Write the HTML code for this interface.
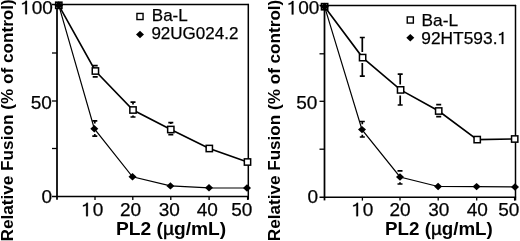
<!DOCTYPE html>
<html><head><meta charset="utf-8"><style>
html,body{margin:0;padding:0;background:#fff;width:520px;height:241px;overflow:hidden}
svg{display:block;will-change:transform}
text{font-family:"Liberation Sans",sans-serif;fill:#000;stroke:#000;stroke-width:0.25px}
text[font-weight="700"]{stroke-width:0}
</style></head><body>
<svg width="520" height="241" viewBox="0 0 520 241">
<path d="M57.00 4.50V199.70" stroke="#000" stroke-width="1.75" fill="none"/>
<path d="M52.00 196.50H248.90" stroke="#000" stroke-width="1.4" fill="none"/>
<path d="M52.00 4.50H248.90" stroke="#000" stroke-width="1.3" fill="none"/>
<path d="M248.30 3.90V199.70" stroke="#000" stroke-width="1.5" fill="none"/>
<path d="M52.00 53.00H57.00" stroke="#000" stroke-width="1.3"/>
<path d="M52.00 101.00H57.00" stroke="#000" stroke-width="1.3"/>
<path d="M52.00 148.50H57.00" stroke="#000" stroke-width="1.3"/>
<path d="M95.00 196.50V199.90" stroke="#000" stroke-width="1.3"/>
<path d="M132.80 196.50V199.90" stroke="#000" stroke-width="1.3"/>
<path d="M170.80 196.50V199.90" stroke="#000" stroke-width="1.3"/>
<path d="M209.10 196.50V199.90" stroke="#000" stroke-width="1.3"/>
<path d="M247.60 196.50V199.90" stroke="#000" stroke-width="1.3"/>
<polyline points="58.80,5.30 94.30,128.70 132.50,176.80 170.40,185.90 209.00,187.80 247.00,188.00" fill="none" stroke="#000" stroke-width="1.2" stroke-linejoin="miter"/>
<polyline points="58.80,5.30 95.40,71.00 133.00,110.00 170.80,129.50 209.30,148.50 247.50,162.00" fill="none" stroke="#000" stroke-width="1.6" stroke-linejoin="miter"/>
<path d="M92.30 120.90H97.30M92.30 136.20H97.30M94.80 120.90V123.50M94.80 136.20V133.90" stroke="#000" stroke-width="1.7" fill="none"/>
<path d="M92.70 65.60H97.70M92.70 76.80H97.70" stroke="#000" stroke-width="1.7" fill="none"/>
<path d="M130.50 102.10H135.50M130.50 117.00H135.50M133.00 102.10V104.50M133.00 117.00V115.50" stroke="#000" stroke-width="1.7" fill="none"/>
<path d="M168.30 122.70H173.30M168.30 134.60H173.30M170.80 122.70V124.00" stroke="#000" stroke-width="1.7" fill="none"/>
<path d="M58.80 1.60L62.80 5.30L58.80 9.00L54.80 5.30Z" fill="#000"/>
<path d="M94.30 125.00L98.30 128.70L94.30 132.40L90.30 128.70Z" fill="#000"/>
<path d="M132.50 173.10L136.50 176.80L132.50 180.50L128.50 176.80Z" fill="#000"/>
<path d="M170.40 182.20L174.40 185.90L170.40 189.60L166.40 185.90Z" fill="#000"/>
<path d="M209.00 184.10L213.00 187.80L209.00 191.50L205.00 187.80Z" fill="#000"/>
<path d="M247.00 184.30L251.00 188.00L247.00 191.70L243.00 188.00Z" fill="#000"/>
<rect x="92.25" y="67.85" width="6.30" height="6.30" fill="#fff" stroke="#000" stroke-width="1.5"/>
<rect x="129.85" y="106.85" width="6.30" height="6.30" fill="#fff" stroke="#000" stroke-width="1.5"/>
<rect x="167.65" y="126.35" width="6.30" height="6.30" fill="#fff" stroke="#000" stroke-width="1.5"/>
<rect x="206.15" y="145.35" width="6.30" height="6.30" fill="#fff" stroke="#000" stroke-width="1.5"/>
<rect x="244.35" y="158.85" width="6.30" height="6.30" fill="#fff" stroke="#000" stroke-width="1.5"/>
<rect x="55.70" y="2.20" width="6.20" height="6.20" fill="#fff" stroke="#000" stroke-width="1.6"/>
<path d="M58.80 1.40L63.00 5.30L58.80 9.20L54.60 5.30Z" fill="#000"/>
<rect x="136.95" y="13.45" width="6.10" height="6.10" fill="#fff" stroke="#000" stroke-width="1.4"/>
<path d="M140.00 30.80L144.00 34.50L140.00 38.20L136.00 34.50Z" fill="#000"/>
<path d="M324.50 5.50V200.40" stroke="#000" stroke-width="1.75" fill="none"/>
<path d="M319.50 197.20H516.10" stroke="#000" stroke-width="1.4" fill="none"/>
<path d="M319.50 5.50H516.10" stroke="#000" stroke-width="1.3" fill="none"/>
<path d="M515.50 4.90V200.40" stroke="#000" stroke-width="1.5" fill="none"/>
<path d="M319.50 53.80H324.50" stroke="#000" stroke-width="1.3"/>
<path d="M319.50 101.30H324.50" stroke="#000" stroke-width="1.3"/>
<path d="M319.50 149.20H324.50" stroke="#000" stroke-width="1.3"/>
<path d="M362.40 197.20V200.60" stroke="#000" stroke-width="1.3"/>
<path d="M400.00 197.20V200.60" stroke="#000" stroke-width="1.3"/>
<path d="M438.20 197.20V200.60" stroke="#000" stroke-width="1.3"/>
<path d="M476.70 197.20V200.60" stroke="#000" stroke-width="1.3"/>
<path d="M514.60 197.20V200.60" stroke="#000" stroke-width="1.3"/>
<polyline points="324.60,6.70 362.00,129.60 400.00,177.00 438.10,186.50 476.60,186.60 515.00,187.00" fill="none" stroke="#000" stroke-width="1.2" stroke-linejoin="miter"/>
<polyline points="324.60,6.70 362.60,57.60 400.60,89.90 438.70,111.00 477.20,139.60 514.70,139.00" fill="none" stroke="#000" stroke-width="1.6" stroke-linejoin="miter"/>
<path d="M359.80 121.50H364.80M359.80 137.00H364.80M362.30 121.50V124.30M362.30 137.00V134.70" stroke="#000" stroke-width="1.7" fill="none"/>
<path d="M397.50 170.80H402.50M397.50 184.00H402.50M400.00 170.80V171.80M400.00 184.00V182.20" stroke="#000" stroke-width="1.7" fill="none"/>
<path d="M359.80 37.50H364.80M359.80 76.20H364.80M362.30 37.50V52.10M362.30 76.20V63.10" stroke="#000" stroke-width="1.7" fill="none"/>
<path d="M397.70 74.10H402.70M397.70 105.00H402.70M400.20 74.10V84.40M400.20 105.00V95.40" stroke="#000" stroke-width="1.7" fill="none"/>
<path d="M436.20 104.60H441.20M436.20 116.60H441.20M438.70 104.60V105.50" stroke="#000" stroke-width="1.7" fill="none"/>
<path d="M324.60 3.00L328.60 6.70L324.60 10.40L320.60 6.70Z" fill="#000"/>
<path d="M362.00 125.90L366.00 129.60L362.00 133.30L358.00 129.60Z" fill="#000"/>
<path d="M400.00 173.30L404.00 177.00L400.00 180.70L396.00 177.00Z" fill="#000"/>
<path d="M438.10 182.80L442.10 186.50L438.10 190.20L434.10 186.50Z" fill="#000"/>
<path d="M476.60 182.90L480.60 186.60L476.60 190.30L472.60 186.60Z" fill="#000"/>
<path d="M515.00 183.30L519.00 187.00L515.00 190.70L511.00 187.00Z" fill="#000"/>
<rect x="359.45" y="54.45" width="6.30" height="6.30" fill="#fff" stroke="#000" stroke-width="1.5"/>
<rect x="397.45" y="86.75" width="6.30" height="6.30" fill="#fff" stroke="#000" stroke-width="1.5"/>
<rect x="435.55" y="107.85" width="6.30" height="6.30" fill="#fff" stroke="#000" stroke-width="1.5"/>
<rect x="474.05" y="136.45" width="6.30" height="6.30" fill="#fff" stroke="#000" stroke-width="1.5"/>
<rect x="511.55" y="135.85" width="6.30" height="6.30" fill="#fff" stroke="#000" stroke-width="1.5"/>
<rect x="321.50" y="3.60" width="6.20" height="6.20" fill="#fff" stroke="#000" stroke-width="1.6"/>
<path d="M324.60 2.80L328.80 6.70L324.60 10.60L320.40 6.70Z" fill="#000"/>
<rect x="407.25" y="16.95" width="6.10" height="6.10" fill="#fff" stroke="#000" stroke-width="1.4"/>
<path d="M410.30 34.10L414.30 37.80L410.30 41.50L406.30 37.80Z" fill="#000"/>
<path transform="translate(21.20,14.20) scale(0.0190)" d="M304 0V-703H236C211 -640 154 -592 45 -578V-508C120 -518 180 -540 212 -572V0Z" fill="#000" stroke="#000" stroke-width="13.2"/>
<text x="31.76" y="14.20" font-size="19" font-weight="400" >00</text>
<text x="30.70" y="108.90" font-size="19" font-weight="400" >50</text>
<text x="41.40" y="203.20" font-size="19" font-weight="400" >0</text>
<path transform="translate(287.70,14.40) scale(0.0190)" d="M304 0V-703H236C211 -640 154 -592 45 -578V-508C120 -518 180 -540 212 -572V0Z" fill="#000" stroke="#000" stroke-width="13.2"/>
<text x="298.26" y="14.40" font-size="19" font-weight="400" >00</text>
<text x="296.20" y="108.70" font-size="19" font-weight="400" >50</text>
<text x="307.40" y="203.20" font-size="19" font-weight="400" >0</text>
<path transform="translate(82.10,216.20) scale(0.0190)" d="M304 0V-703H236C211 -640 154 -592 45 -578V-508C120 -518 180 -540 212 -572V0Z" fill="#000" stroke="#000" stroke-width="13.2"/>
<text x="92.66" y="216.20" font-size="19" font-weight="400" >0</text>
<text x="119.90" y="216.20" font-size="19" font-weight="400" >20</text>
<text x="158.80" y="216.30" font-size="19" font-weight="400" >30</text>
<text x="196.70" y="216.30" font-size="19" font-weight="400" >40</text>
<text x="231.20" y="216.30" font-size="19" font-weight="400" >50</text>
<path transform="translate(352.30,216.20) scale(0.0190)" d="M304 0V-703H236C211 -640 154 -592 45 -578V-508C120 -518 180 -540 212 -572V0Z" fill="#000" stroke="#000" stroke-width="13.2"/>
<text x="362.86" y="216.20" font-size="19" font-weight="400" >0</text>
<text x="389.50" y="216.30" font-size="19" font-weight="400" >20</text>
<text x="428.20" y="216.30" font-size="19" font-weight="400" >30</text>
<text x="466.80" y="216.30" font-size="19" font-weight="400" >40</text>
<text x="498.20" y="216.30" font-size="19" font-weight="400" >50</text>
<text x="151.80" y="21.30" font-size="17" font-weight="400" >Ba-L</text>
<text x="151.40" y="38.60" font-size="17" font-weight="400" >92UG024.2</text>
<text x="421.60" y="25.60" font-size="17" font-weight="400" textLength="36.5" lengthAdjust="spacingAndGlyphs">Ba-L</text>
<text x="421.30" y="43.90" font-size="17" font-weight="400" textLength="76.2" lengthAdjust="spacingAndGlyphs">92HT593.</text>
<path transform="translate(498.20,43.90) scale(0.0170)" d="M304 0V-703H236C211 -640 154 -592 45 -578V-508C120 -518 180 -540 212 -572V0Z" fill="#000" stroke="#000" stroke-width="14.7"/>
<text x="115.95" y="234.90" font-size="18" font-weight="700" textLength="110.3" lengthAdjust="spacingAndGlyphs">PL2 (<tspan font-weight="400" stroke="#000" stroke-width="0.5">µ</tspan>g/mL)</text>
<text x="385.00" y="235.10" font-size="18" font-weight="700" textLength="107.8" lengthAdjust="spacingAndGlyphs">PL2 (<tspan font-weight="400" stroke="#000" stroke-width="0.5">µ</tspan>g/mL)</text>
<text transform="translate(12.6,241.5) rotate(-90)" font-size="17" font-weight="700" textLength="242.3" lengthAdjust="spacingAndGlyphs">Relative Fusion (% of control)</text>
<text transform="translate(279.8,241.2) rotate(-90)" font-size="17" font-weight="700" textLength="241.5" lengthAdjust="spacingAndGlyphs">Relative Fusion (% of control)</text>
</svg>
</body></html>
